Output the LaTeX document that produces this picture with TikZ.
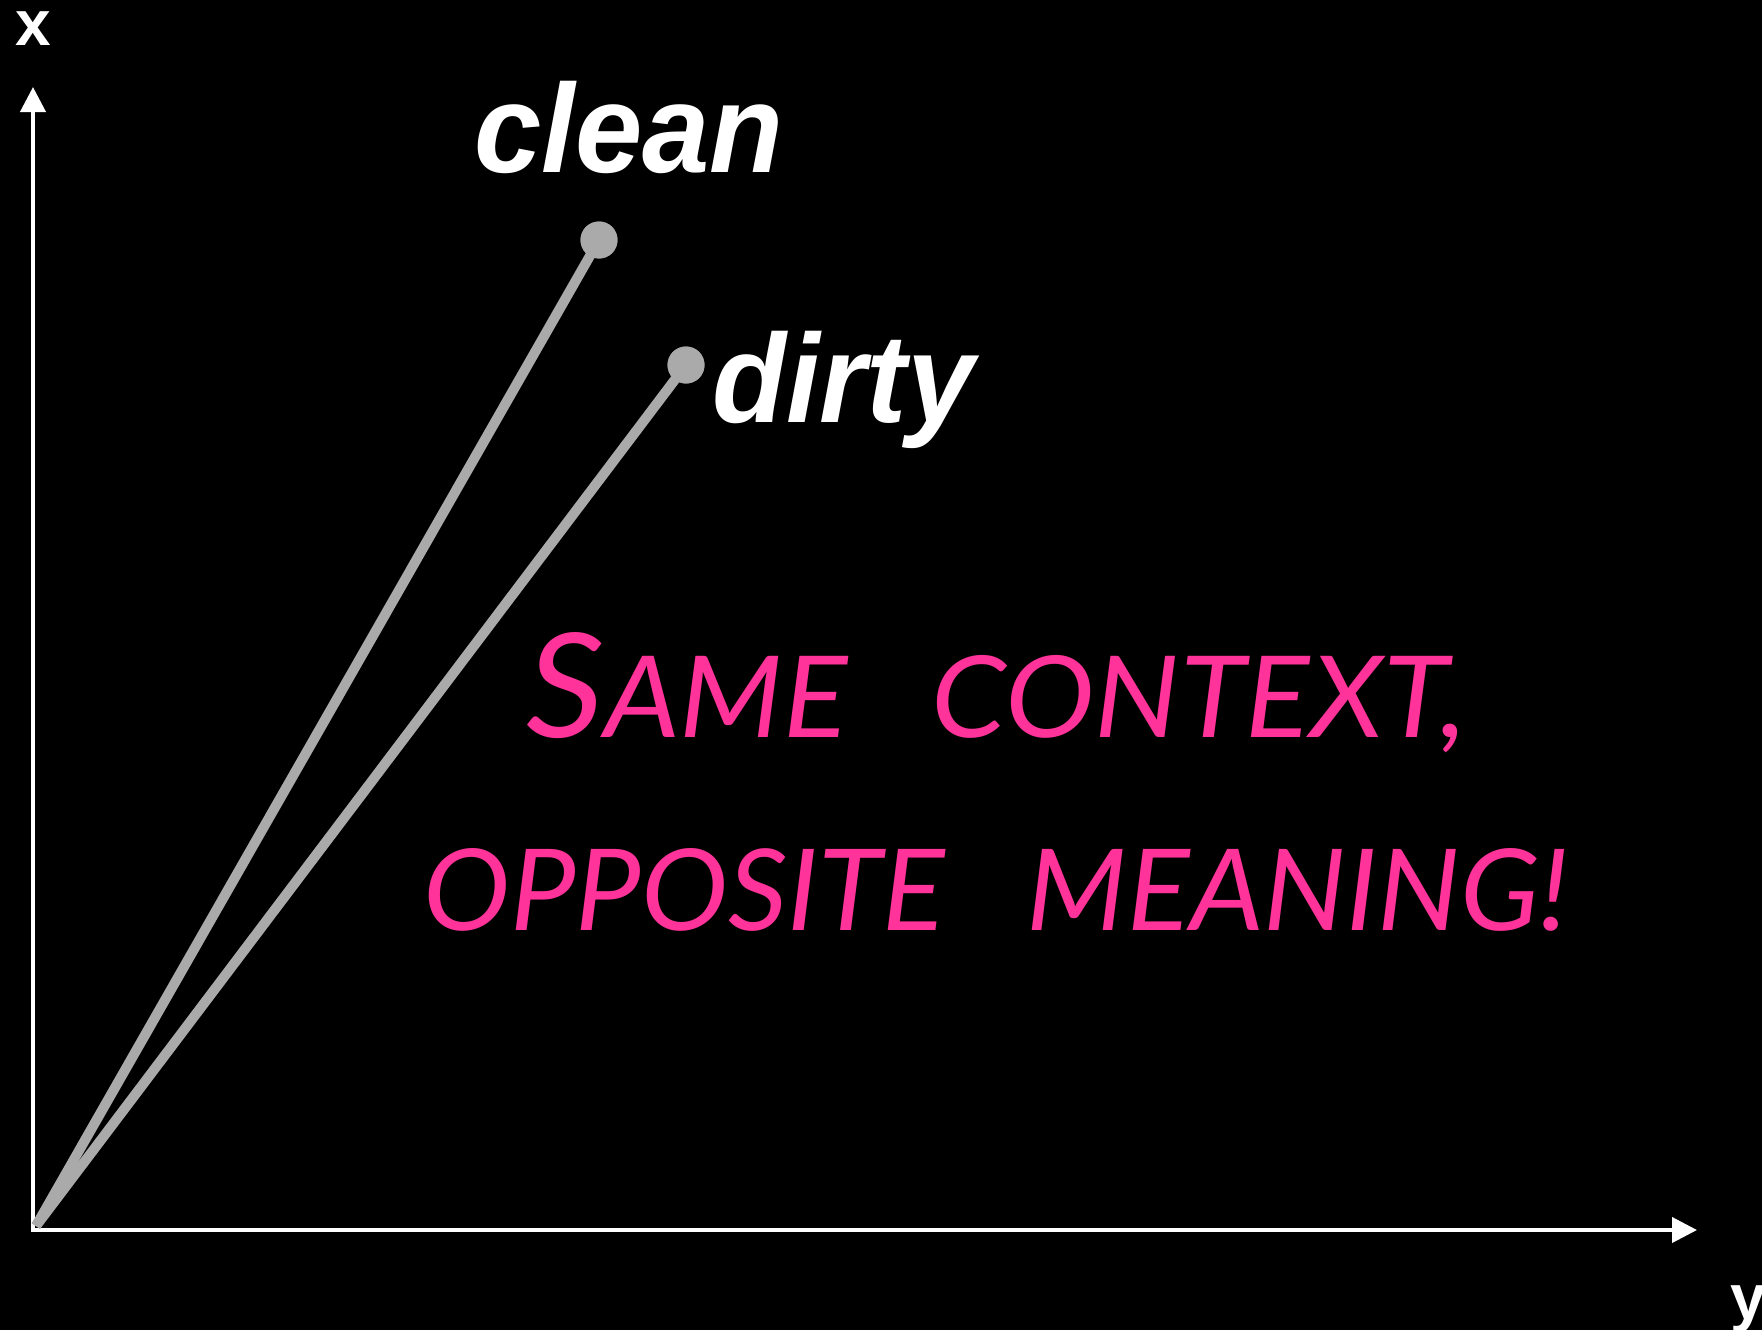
\documentclass[tikz,border=0pt]{standalone}
\usepackage{fontspec}
\setmainfont{Liberation Sans}
\newfontfamily\handfont{Lato}
\usetikzlibrary{arrows.meta}
\definecolor{hotpink}{RGB}{255,51,153}
\definecolor{vecgray}{RGB}{170,170,170}
\tikzset{
  axisline/.style={draw=white, line width=4pt, -{Triangle[length=25pt,width=25pt]}},
  vecline/.style={draw=vecgray, line width=10pt, line cap=butt},
  vecdot/.style={circle, fill=vecgray, minimum size=37pt, inner sep=0pt},
  axislabel/.style={text=white, inner sep=0pt, anchor=base west, font=\fontsize{64}{64}\selectfont\bfseries},
  wordlabel/.style={text=white, inner sep=0pt, anchor=base west, font=\fontsize{126}{126}\selectfont\bfseries\itshape},
  handlabel/.style={text=hotpink, inner sep=0pt, anchor=base west, font=\handfont\itshape}
}
\begin{document}
\begin{tikzpicture}[x=1pt,y=-1pt]
\fill[black] (0,0) rectangle (1762,1330);
\useasboundingbox (0,0) rectangle (1762,1330);

\coordinate (O) at (33,1230);
\coordinate (xtip) at (33,87);
\coordinate (ytip) at (1697,1230);
\coordinate (vstart) at (36,1226);

\draw[axisline] ([yshift=-2pt]O) -- (xtip);
\draw[axisline] ([xshift=-2pt]O) -- (ytip);

\node[axislabel] (xlab) at (15,46) {x};
\node[axislabel] (ylab) at (1730,1319) {y};

\node[vecdot] (cleandot) at (599,240) {};
\node[vecdot] (dirtydot) at (686,365) {};
\draw[vecline] (vstart) -- (cleandot.center);
\draw[vecline] (vstart) -- (dirtydot.center);
\node[vecdot] at (cleandot.center) {};
\node[vecdot] at (dirtydot.center) {};

\node[wordlabel] (clean) at (474,172) {\scalebox{0.96}[1]{clean}};
\node[wordlabel] (dirty) at (712,422) {\scalebox{0.96}[1]{dirty}};

\node[handlabel] (line1) at (526,737) {\resizebox{941pt}{105pt}{\fontsize{146}{146}\selectfont S\fontsize{114}{114}\selectfont AME\hspace{0.7em}CONTEXT,}};
\node[handlabel] (line2) at (423,930) {\resizebox{1146pt}{82pt}{\fontsize{114}{114}\selectfont OPPOSITE\hspace{0.7em}MEANING!}};
\end{tikzpicture}
\end{document}
